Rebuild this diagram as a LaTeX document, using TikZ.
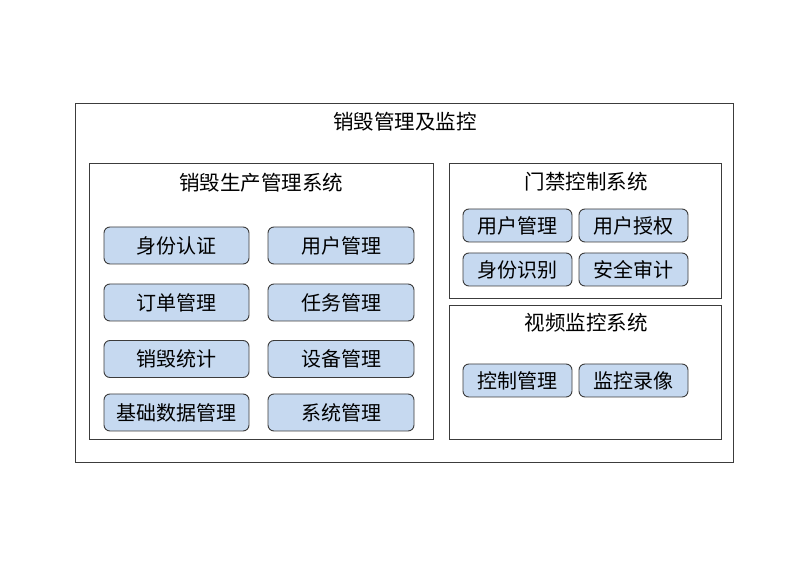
\documentclass[tikz,border=0pt]{standalone}
\usepackage{fontspec}
\setmainfont{Noto Sans CJK SC}
\usetikzlibrary{positioning}
\definecolor{modfill}{RGB}{198,217,240}
\definecolor{framegray}{RGB}{60,60,60}
\tikzset{
  frame/.style={draw=framegray, line width=0.9pt, fill=white},
  sysbox/.style={draw=framegray, line width=0.9pt, fill=white},
  modbox/.style={draw=framegray, line width=0.9pt, rounded corners=6pt, fill=modfill, align=center, inner sep=0pt, font=\fontsize{20}{22}\selectfont},
  title/.style={font=\fontsize{20.5}{22}\selectfont},
}

\begin{document}
\begin{tikzpicture}[x=1pt, y=-1pt]
    \useasboundingbox (0,0) rectangle (807,564);
    % outer frame
    \draw[frame] (75,103) rectangle (733,462);
    \node[title] (top) at (405,122) {销毁管理及监控};

    % left system
    \draw[sysbox] (89,163) rectangle (433,439);
    \node[title] (prod) at (261,183) {销毁生产管理系统};
    \node[modbox, minimum width=145pt, minimum height=37pt] (sfrz) at (176.5,245.5) {身份认证};
    \node[modbox, minimum width=146pt, minimum height=37pt] (yhgl) at (341,245.5) {用户管理};
    \node[modbox, minimum width=145pt, minimum height=37pt] (ddgl) at (176.5,302.5) {订单管理};
    \node[modbox, minimum width=146pt, minimum height=37pt] (rwgl) at (341,302.5) {任务管理};
    \node[modbox, minimum width=145pt, minimum height=37pt] (xhtj) at (176.5,359) {销毁统计};
    \node[modbox, minimum width=146pt, minimum height=37pt] (sbgl) at (341,359) {设备管理};
    \node[modbox, minimum width=145pt, minimum height=37pt] (jcsj) at (176.5,412.5) {基础数据管理};
    \node[modbox, minimum width=146pt, minimum height=37pt] (xtgl) at (341,412.5) {系统管理};

    % access control
    \draw[sysbox] (449,163) rectangle (721,298);
    \node[title] (door) at (586,182) {门禁控制系统};
    \node[modbox, minimum width=109pt, minimum height=33pt] (mjyh) at (517.5,225.5) {用户管理};
    \node[modbox, minimum width=109pt, minimum height=33pt] (mjsq) at (633.5,225.5) {用户授权};
    \node[modbox, minimum width=109pt, minimum height=33pt] (mjsb) at (517.5,269.5) {身份识别};
    \node[modbox, minimum width=109pt, minimum height=33pt] (mjsj) at (633.5,269.5) {安全审计};

    % video monitoring
    \draw[sysbox] (449,305) rectangle (721,439);
    \node[title] (video) at (586,323) {视频监控系统};
    \node[modbox, minimum width=109pt, minimum height=33pt] (spkz) at (517.5,380.5) {控制管理};
    \node[modbox, minimum width=109pt, minimum height=33pt] (splx) at (633.5,380.5) {监控录像};
\end{tikzpicture}
\end{document}
